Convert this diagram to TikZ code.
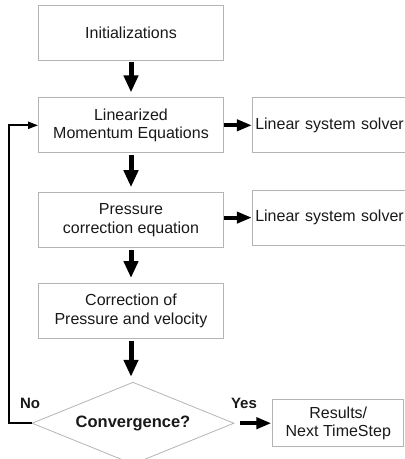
\documentclass[tikz,border=0pt]{standalone}
\usepackage{fontspec}
\setmainfont{Liberation Sans}
\usepackage{tikz}
\usetikzlibrary{shapes.geometric,arrows.meta,positioning}
\definecolor{boxgray}{RGB}{180,180,180}
\definecolor{txt}{RGB}{25,25,25}

\begin{document}
\begin{tikzpicture}[x=1pt,y=-1pt,
    blk/.style={draw=boxgray,line width=0.8pt,minimum width=185pt,minimum height=55pt,
      align=center,text=txt,font=\fontsize{16}{18.5}\selectfont},
    solver/.style={draw=boxgray,line width=0.8pt,minimum height=55pt,text width=170pt,
      inner xsep=3pt,align=left,text=txt,font=\fontsize{16}{18.5}\selectfont},
    result/.style={draw=boxgray,line width=0.8pt,minimum width=131pt,minimum height=47pt,
      inner sep=0pt,align=center,text=txt,font=\fontsize{16}{18.5}\selectfont},
    decision/.style={diamond,draw=boxgray,line width=0.8pt,minimum width=202pt,
      minimum height=82pt,inner sep=0pt,aspect=2.5,text=txt,font=\fontsize{16.5}{19}\selectfont\bfseries},
    lbl/.style={text=txt,font=\fontsize{15}{17}\selectfont\bfseries,inner sep=0pt},
    bigarrow/.style={line width=5pt,-{Triangle[width=14pt,length=17pt]},shorten <=2pt,shorten >=5pt},
    sidearrow/.style={line width=4pt,-{Triangle[width=11pt,length=15pt]}},
    backarrow/.style={line width=2pt,-{Triangle[width=7pt,length=10pt]}}
  ]
      \clip (0,0) rectangle (405,459);
      \node[blk](init) at (131,32.5){Initializations};
      \node[blk,below=37pt of init](linmom){Linearized\\Momentum Equations};
      \node[blk,below=39pt of linmom](pcorr){Pressure\\correction equation};
      \node[blk,below=35pt of pcorr](corr){Correction of\\Pressure and velocity};
      \node[decision,below=43pt of corr,xshift=2pt](conv){Convergence?};
      \node[solver,right=28pt of linmom](solv1){Linear system solver};
      \node[solver,right=28pt of pcorr,yshift=2.5pt](solv2){Linear system solver};
      \node[result,right=38pt of conv](res){Results/\\Next TimeStep};
      \node[lbl] at (30,403)(no){No};
      \node[lbl] at (244,403)(yes){Yes};
      %
      \draw[bigarrow] (init) -- (linmom);
      \draw[bigarrow] (linmom) -- (pcorr);
      \draw[bigarrow] (pcorr) -- (corr);
      \draw[bigarrow] (corr) -- (corr|-conv.north);
      \draw[sidearrow] (linmom) -- (solv1);
      \draw[sidearrow] (pcorr.east|-solv2) -- (solv2);
      \draw[sidearrow,shorten <=6pt,shorten >=1pt] (conv) -- (res);
      \draw[backarrow] (conv.west) -- ++(-23,0) |- (linmom.west);
    \end{tikzpicture}
\end{document}
